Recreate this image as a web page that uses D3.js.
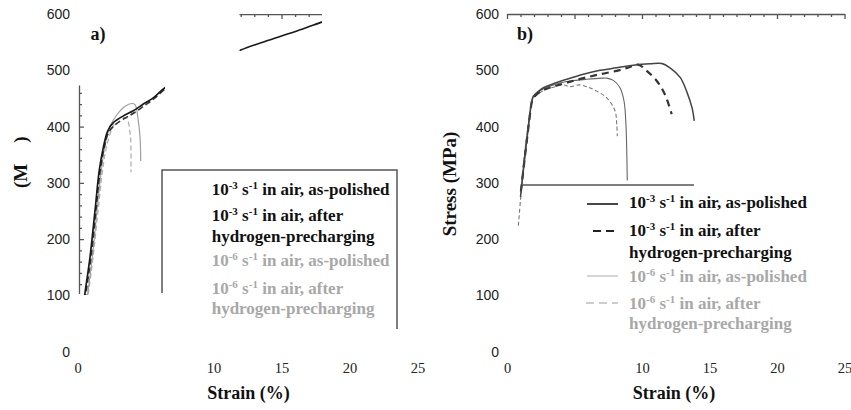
<!DOCTYPE html>
<html><head><meta charset="utf-8">
<script src="https://cdn.jsdelivr.net/npm/d3@7"></script>
<style>body{margin:0;background:#fff}svg{display:block;background:#fff}</style>
</head><body>
<svg id="c" width="851" height="410"></svg>
<script>
// ---- data ----
const yTickValues = [0, 100, 200, 300, 400, 500, 600];
const xTickValues = [0, 10, 15, 20, 25];
const panelLabels = ["a)", "b)"];
const xTitle = "Strain (%)";
const yTitleB = "Stress (MPa)";

// legend entries: base, exponent, remainder, second line
const legendRates = ["10", "10", "10", "10"];
const legendExps = ["-3", "-3", "-6", "-6"];
const legendRest = [" in air, as-polished", " in air, after", " in air, as-polished", " in air, after"];
const legendSecond = ["", "hydrogen-precharging", "", "hydrogen-precharging"];

// panel a: [strain %, stress MPa]
const aFastPolished = [[0.3,60],[0.55,104],[0.92,168],[1.29,251],[1.6,322],[1.9,363],[2.22,392],[2.63,407],[3.37,419],[4.1,428],[4.84,440],[5.57,451],[6.43,469],[8,488],[10,512],[12,536],[13.5,549],[15,561],[16.5,573],[18,586],[18.5,590]];
const aFastH = [[0.36,60],[0.62,104],[1.0,170],[1.35,250],[1.66,320],[1.96,362],[2.3,390],[2.8,404],[3.5,415],[4.2,425],[4.9,437],[5.6,449],[6.5,468],[7,476]];
const aSlowPolished = [[0.45,60],[0.75,104],[1.1,170],[1.45,255],[1.75,322],[2.0,364],[2.39,401],[2.9,421],[3.5,436],[3.98,441],[4.23,439],[4.47,410],[4.6,380],[4.65,339]];
const aSlowH = [[0.5,60],[0.8,104],[1.15,170],[1.52,252],[1.82,318],[2.1,360],[2.5,394],[2.88,411],[3.3,416],[3.62,415],[3.86,389],[3.93,363],[3.93,319]];

// panel b
const bFastPolished = [[1.0,275],[1.33,351],[1.6,405],[1.83,445],[1.95,454],[2.3,462],[2.69,469],[3.43,476],[4.42,484],[5.65,493],[6.89,500],[8.13,504.4],[9.36,509],[10.6,511.5],[11.46,512],[12.1,504],[12.84,487],[13.3,463],[13.7,434],[13.87,410]];
const bFastH = [[1.03,285],[1.35,351],[1.62,405],[1.85,445],[1.97,452],[2.7,465],[3.43,471],[4.42,478],[5.65,486],[6.89,493],[8.13,499],[9.0,505],[9.73,510],[10.35,499],[11.1,481],[11.7,457],[12.2,422]];
const bSlowPolished = [[1.08,290],[1.36,351],[1.63,405],[1.86,446],[2.0,455],[2.7,467],[3.43,474],[4.42,480],[5.9,484],[7.0,486],[7.39,486],[7.88,482],[8.37,469],[8.67,445],[8.81,404],[8.87,357],[8.91,304]];
const bSlowH = [[0.84,224],[1.0,270],[1.2,330],[1.5,390],[1.8,440],[1.95,450],[2.7,464],[3.43,470],[4.17,474],[4.67,471],[5.41,474],[6.0,470],[6.64,463],[7.39,451],[8.0,428],[8.13,404],[8.17,383]];

// ---- drawing ----
const svg = d3.select("#c");
const defs = svg.append("defs");
const yS = d3.scaleLinear().domain([0, 600]).range([351.7, 14]);
const xA = d3.scaleLinear().domain([0, 25]).range([77.5, 417.5]);
const xB = d3.scaleLinear().domain([0, 25]).range([507, 844.5]);

const BLACK = "#111", GREY = "#a8a8a8", FRAME = "#555";
const SERIF = "'Liberation Serif','Times New Roman',serif";
const SANS = "'Liberation Sans',Arial,sans-serif";

// clips
const cpA = defs.append("clipPath").attr("id", "clipA");
cpA.append("rect").attr("x", 79.5).attr("y", 86).attr("width", 85.5).attr("height", 209);
cpA.append("rect").attr("x", 239.5).attr("y", 8).attr("width", 82.5).attr("height", 43);
defs.append("clipPath").attr("id", "clipAxisA").append("rect").attr("x", 70).attr("y", 85.5).attr("width", 30).attr("height", 208.5);
defs.append("clipPath").attr("id", "clipTopA").append("rect").attr("x", 239.5).attr("y", 0).attr("width", 82.5).attr("height", 30);

function tickLabelsY(x) {
  const g = svg.append("g").attr("transform", `translate(${x},0)`)
    .call(d3.axisLeft(yS).tickValues(yTickValues).tickSize(0).tickPadding(0));
  g.select(".domain").remove();
  g.selectAll("text").attr("font-family", SANS).attr("font-size", 14).attr("fill", "#222");
}
function tickLabelsX(xs) {
  const g = svg.append("g").attr("transform", `translate(0,360)`)
    .call(d3.axisBottom(xs).tickValues(xTickValues).tickSize(0).tickPadding(3));
  g.select(".domain").remove();
  g.selectAll("text").attr("font-family", SERIF).attr("font-size", 14.5).attr("fill", "#222");
}
function topFrame(xs, clip) {
  const g = svg.append("g").attr("transform", `translate(0,${yS(600)})`)
    .call(d3.axisBottom(xs).tickValues(d3.range(0, 26)).tickFormat("").tickSize(3).tickSizeOuter(0));
  g.selectAll(".tick line").attr("y2", d => d % 5 === 0 ? 5 : 3);
  g.selectAll("path,line").attr("stroke", FRAME).attr("stroke-width", 1.3);
  if (clip) g.attr("clip-path", `url(#${clip})`);
}

// ---- Panel a ----
tickLabelsY(70);
tickLabelsX(xA);
topFrame(xA, "clipTopA");
{
  const g = svg.append("g").attr("clip-path", "url(#clipAxisA)").append("g")
    .attr("transform", "translate(79,0)")
    .call(d3.axisRight(yS).tickValues(d3.range(0, 601, 20)).tickFormat("").tickSize(3).tickSizeOuter(0));
  g.selectAll(".tick line").attr("x2", d => d % 100 === 0 ? 5 : 3);
  g.selectAll("path,line").attr("stroke", FRAME).attr("stroke-width", 1.3);
}
const lineA = d3.line().x(d => xA(d[0])).y(d => yS(d[1])).curve(d3.curveMonotoneX);
const lineAy = d3.line().x(d => xA(d[0])).y(d => yS(d[1])).curve(d3.curveCatmullRom);
const gA = svg.append("g").attr("clip-path", "url(#clipA)").attr("fill", "none");
gA.append("path").datum(aSlowH).attr("d", lineAy).attr("stroke", "#b0b0b0").attr("stroke-width", 1.3).attr("stroke-dasharray", "5,3");
gA.append("path").datum(aSlowPolished).attr("d", lineAy).attr("stroke", "#a0a0a0").attr("stroke-width", 1.2);
gA.append("path").datum(aFastH).attr("d", lineAy).attr("stroke", "#333").attr("stroke-width", 1.6).attr("stroke-dasharray", "6,3");
gA.append("path").datum(aFastPolished).attr("d", lineAy).attr("stroke", "#1a1a1a").attr("stroke-width", 1.7);

// legend frame a
svg.append("path").attr("d", "M162,293V170H397V329").attr("fill", "none").attr("stroke", FRAME).attr("stroke-width", 1.5);

function legendText(x, baselines, colors) {
  let k = 0;
  legendRates.forEach((r, i) => {
    const t = svg.append("text").attr("x", x).attr("y", baselines[k++])
      .attr("font-family", SERIF).attr("font-weight", "bold").attr("font-size", 17).attr("fill", colors[i]);
    t.append("tspan").text(r);
    t.append("tspan").attr("dy", -6).attr("font-size", 11).text(legendExps[i]);
    t.append("tspan").attr("dy", 6).text(" s");
    t.append("tspan").attr("dy", -6).attr("font-size", 11).text("-1");
    t.append("tspan").attr("dy", 6).text(legendRest[i]);
    if (legendSecond[i]) {
      svg.append("text").attr("x", x).attr("y", baselines[k++])
        .attr("font-family", SERIF).attr("font-weight", "bold").attr("font-size", 17).attr("fill", colors[i])
        .text(legendSecond[i]);
    }
  });
}
const legColors = [BLACK, BLACK, GREY, GREY];
legendText(211.7, [195, 221, 241.5, 266, 294, 313.5], legColors);

svg.append("text").attr("x", 90.5).attr("y", 40).attr("font-family", SERIF).attr("font-weight", "bold")
  .attr("font-size", 18).attr("fill", BLACK).text(panelLabels[0]);
svg.append("text").attr("x", 248.5).attr("y", 399).attr("text-anchor", "middle").attr("font-family", SERIF)
  .attr("font-weight", "bold").attr("font-size", 18).attr("fill", BLACK).text(xTitle);
{
  const t = svg.append("text").attr("transform", "translate(26.5,188) rotate(-90)")
    .attr("font-family", SERIF).attr("font-weight", "bold").attr("font-size", 19).attr("fill", BLACK);
  t.append("tspan").text("(M");
  t.append("tspan").attr("dx", 21).text(")");
}

// ---- Panel b ----
tickLabelsY(499);
tickLabelsX(xB);
topFrame(xB, null);
const lineB = d3.line().x(d => xB(d[0])).y(d => yS(d[1])).curve(d3.curveCatmullRom);
const gB = svg.append("g").attr("fill", "none");
gB.append("path").datum(bSlowH).attr("d", lineB).attr("stroke", "#777").attr("stroke-width", 1.1).attr("stroke-dasharray", "4,2.5");
gB.append("path").datum(bSlowPolished).attr("d", lineB).attr("stroke", "#666").attr("stroke-width", 1.1);
gB.append("path").datum(bFastH).attr("d", lineB).attr("stroke", "#333").attr("stroke-width", 2.2).attr("stroke-dasharray", "7,5");
gB.append("path").datum(bFastPolished).attr("d", lineB).attr("stroke", "#444").attr("stroke-width", 1.5);

// legend b
svg.append("line").attr("x1", 523).attr("x2", 694).attr("y1", 185).attr("y2", 185).attr("stroke", FRAME).attr("stroke-width", 1.5);
const sampleY = [204, 231, 276, 303];
const sampleX1 = [587, 593, 587, 586];
const sampleStyle = [
  {c: "#333", w: 1.8, d: null},
  {c: "#222", w: 2.2, d: "8,5"},
  {c: "#bbb", w: 1.2, d: null},
  {c: "#999", w: 1.2, d: "8,5"}
];
sampleY.forEach((y, i) => {
  const l = svg.append("line").attr("x1", sampleX1[i]).attr("x2", 618).attr("y1", y).attr("y2", y)
    .attr("stroke", sampleStyle[i].c).attr("stroke-width", sampleStyle[i].w);
  if (sampleStyle[i].d) l.attr("stroke-dasharray", sampleStyle[i].d);
});
legendText(629, [208, 235.5, 258, 282, 308.5, 329], legColors);

svg.append("text").attr("x", 517).attr("y", 40).attr("font-family", SERIF).attr("font-weight", "bold")
  .attr("font-size", 18).attr("fill", BLACK).text(panelLabels[1]);
svg.append("text").attr("x", 674).attr("y", 399).attr("text-anchor", "middle").attr("font-family", SERIF)
  .attr("font-weight", "bold").attr("font-size", 18).attr("fill", BLACK).text(xTitle);
svg.append("text").attr("transform", "translate(456,184) rotate(-90)").attr("text-anchor", "middle")
  .attr("font-family", SERIF).attr("font-weight", "bold").attr("font-size", 19).attr("fill", BLACK).text(yTitleB);
</script>
</body></html>
